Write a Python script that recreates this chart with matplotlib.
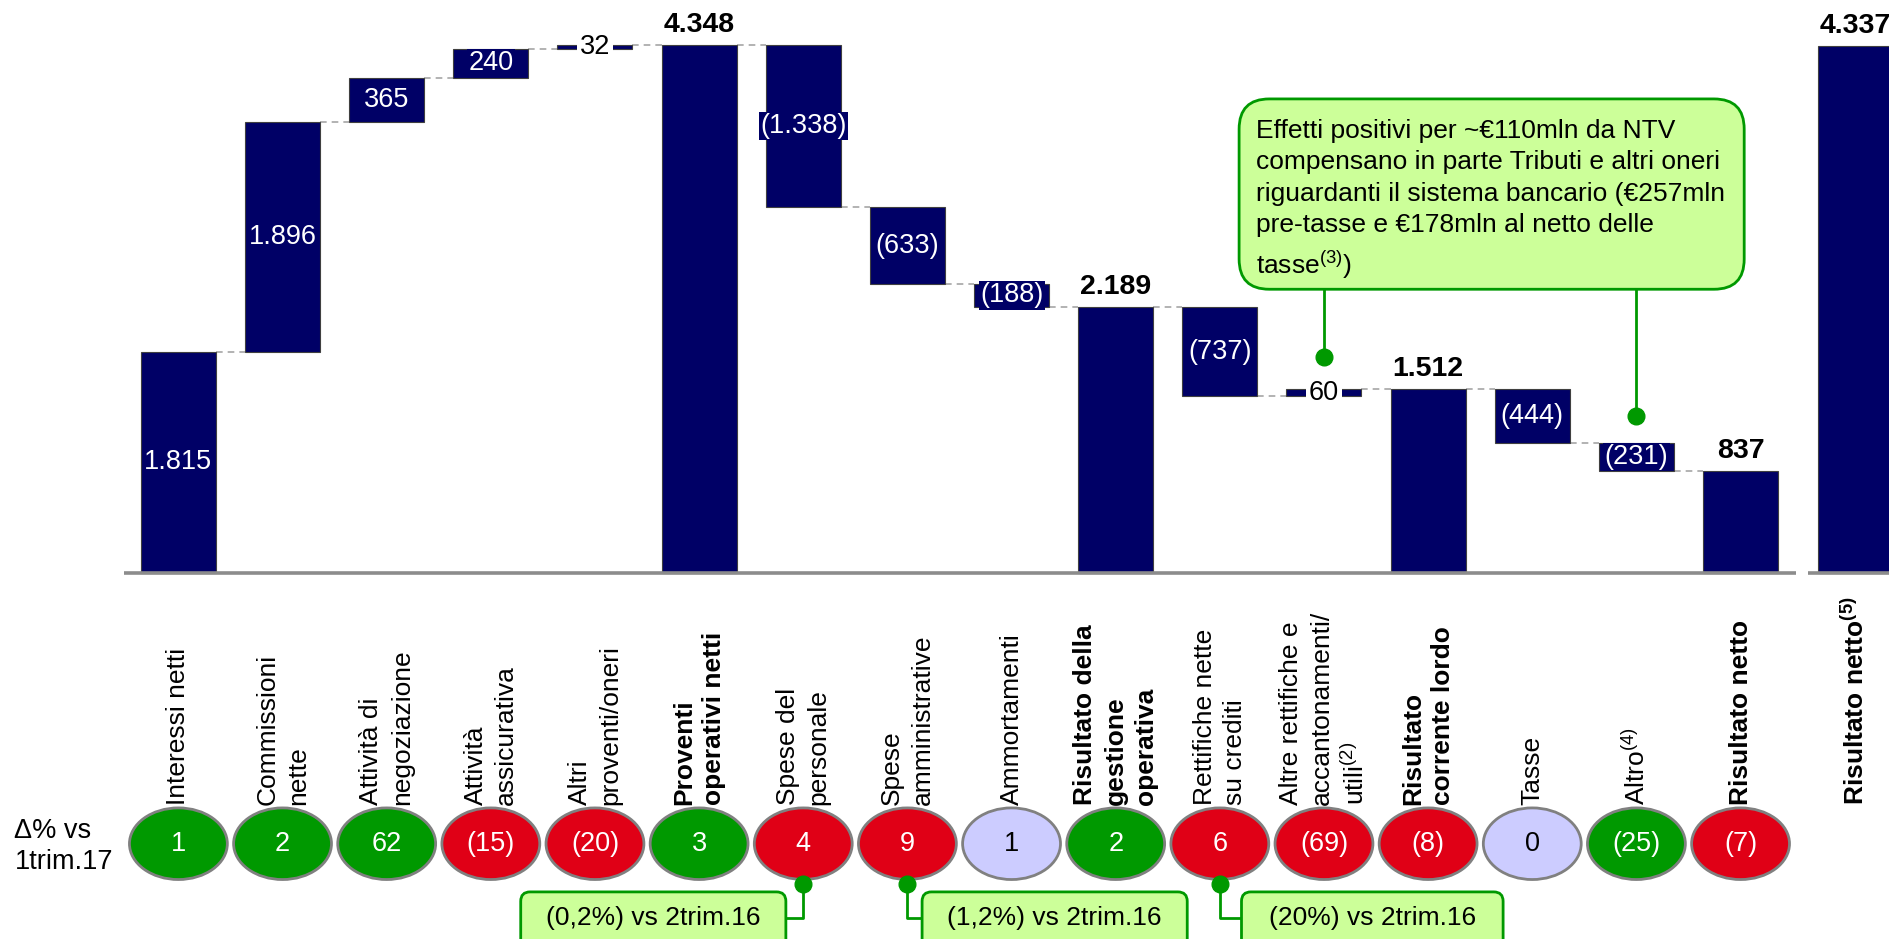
import matplotlib.pyplot as plt
from matplotlib.patches import Ellipse, FancyBboxPatch

plt.rcParams['font.family'] = ['Liberation Sans', 'DejaVu Sans']
plt.rcParams['mathtext.fontset'] = 'custom'
plt.rcParams['mathtext.rm'] = 'Liberation Sans'
plt.rcParams['mathtext.bf'] = 'Liberation Sans:bold'

categories = [
    "Interessi netti",
    "Commissioni\nnette",
    "Attività di\nnegoziazione",
    "Attività\nassicurativa",
    "Altri\nproventi/oneri",
    "Proventi\noperativi netti",
    "Spese del\npersonale",
    "Spese\namministrative",
    "Ammortamenti",
    "Risultato della\ngestione\noperativa",
    "Rettifiche nette\nsu crediti",
    "Altre rettifiche e\naccantonamenti/\nutili$^{(2)}$",
    "Risultato\ncorrente lordo",
    "Tasse",
    "Altro$^{(4)}$",
    "Risultato netto",
]
# None = subtotal bar
changes = [1815, 1896, 365, 240, 32, None, -1338, -633, -188, None,
           -737, 60, None, -444, -231, None]
delta_vs_q1 = [1, 2, 62, -15, -20, 3, 4, 9, 1, 2, 6, -69, -8, 0, -25, -7]
delta_kind = ['good', 'good', 'good', 'bad', 'bad', 'good', 'bad', 'bad',
              'flat', 'good', 'bad', 'bad', 'bad', 'flat', 'good', 'bad']

side_category = "Risultato netto$^{\\mathbf{(5)}}$"
side_value = 4337

callout_text = ("Effetti positivi per ~€110mln da NTV\n"
                "compensano in parte Tributi e altri oneri\n"
                "riguardanti il sistema bancario (€257mln\n"
                "pre-tasse e €178mln al netto delle\n"
                "tasse$^{(3)}$)")
callout_targets = [11, 14]

notes = ["(0,2%) vs 2trim.16", "(1,2%) vs 2trim.16", "(20%) vs 2trim.16"]
note_targets = [6, 7, 10]

NAVY = '#000066'
GREEN = '#009900'
LIGHT_GREEN = '#CCFF99'
oval_fill = {'good': '#009900', 'bad': '#E00016', 'flat': '#CCCCFF'}
oval_text = {'good': 'white', 'bad': 'white', 'flat': 'black'}
NARROW = ['Liberation Sans Narrow', 'Liberation Sans']
FS = 19
BAR_W = 0.72
ASPECT = 857.5  # y units per x unit for equal pixels


def fmt(v):
    s = f"{abs(v):,}".replace(",", ".")
    return f"({s})" if v < 0 else s


fig = plt.figure(figsize=(18.9, 9.39), dpi=100)
ax = fig.add_axes([0, 0, 1, 1])
ax.set_xlim(-1.713, 16.435)
ax.set_ylim(-3019, 4717)
ax.axis('off')

# waterfall geometry
x = list(range(len(categories)))
level = 0
bottoms, heights, levels = [], [], []
for v in changes:
    if v is None:
        bottoms.append(0)
        heights.append(level)
    else:
        start = level
        level += v
        bottoms.append(min(start, level))
        heights.append(abs(v))
    levels.append(level)

ax.bar(x, heights, bottom=bottoms, width=BAR_W, color=NAVY,
       edgecolor='#404040', linewidth=0.8, zorder=2)
ax.bar([16.1], [side_value], width=BAR_W, color=NAVY,
       edgecolor='#404040', linewidth=0.8, zorder=2)

# dashed connectors
for i in range(len(x) - 1):
    ax.plot([x[i] + BAR_W / 2, x[i + 1] - BAR_W / 2], [levels[i], levels[i]],
            color='#A6A6A6', lw=1.2, ls=(0, (4, 3)), zorder=1)

# value labels
for i, v in enumerate(changes):
    if v is None:
        ax.text(x[i], levels[i] + 60, fmt(levels[i]), ha='center', va='bottom',
                fontsize=20.5, fontweight='bold', zorder=4)
    elif 0 < v < 100:
        ax.text(x[i], bottoms[i] + heights[i] / 2, fmt(v), ha='center', va='center',
                fontsize=FS + 0.5, family=NARROW, color='black', zorder=4,
                bbox=dict(fc='white', ec='none', pad=2.0))
    else:
        ax.text(x[i], bottoms[i] + heights[i] / 2, fmt(v), ha='center', va='center',
                fontsize=FS + 0.5, family=NARROW, color='white', zorder=4,
                bbox=dict(fc=NAVY, ec='none', pad=1.0))
ax.text(16.1, side_value + 60, fmt(side_value), ha='center', va='bottom',
        fontsize=20.5, fontweight='bold', zorder=4)

# baseline
ax.plot([-0.52, 15.53], [0, 0], color='#8C8C8C', lw=2.6, solid_capstyle='butt', zorder=3)
ax.plot([15.65, 16.6], [0, 0], color='#8C8C8C', lw=2.6, solid_capstyle='butt', zorder=3)

# category labels
bold_idx = [i for i, v in enumerate(changes) if v is None]
for i, lab in enumerate(categories):
    ax.text(x[i], -1917, lab, rotation=90, ha='center', va='bottom',
            multialignment='left', fontsize=FS, linespacing=1.35,
            fontweight='bold' if i in bold_idx else 'normal')
ax.text(16.1, -1917, side_category, rotation=90, ha='center', va='bottom',
        fontsize=FS, fontweight='bold')

# delta % vs 1trim.17 ovals
ax.text(-1.574, -2254, "Δ% vs\n1trim.17", ha='left', va='center', fontsize=FS + 0.5,
        linespacing=1.25)
for i, (d, k) in enumerate(zip(delta_vs_q1, delta_kind)):
    ax.add_patch(Ellipse((x[i], -2234), 0.94, 590, fc=oval_fill[k],
                         ec='#808080', lw=2, zorder=3))
    ax.text(x[i], -2234, fmt(d), ha='center', va='center', fontsize=FS + 0.5,
            family=NARROW, color=oval_text[k], zorder=4)

# bottom notes
note_boxes = [(3.287, 5.833), (7.141, 9.687), (10.208, 12.72)]
for txt, t, (x0, x1) in zip(notes, note_targets, note_boxes):
    ax.add_patch(FancyBboxPatch((x0, -3150), x1 - x0, 3150 - 2631,
                                boxstyle="round,pad=0,rounding_size=0.09",
                                mutation_aspect=ASPECT, fc=LIGHT_GREEN,
                                ec=GREEN, lw=2, zorder=3))
    ax.text((x0 + x1) / 2, -2850, txt, ha='center', va='center', fontsize=FS,
            family=NARROW, zorder=4)
    edge = x1 if x1 < t else x0
    ax.plot([t, t, edge], [-2562, -2850, -2850], color=GREEN, lw=2, zorder=2)
    ax.plot([t], [-2562], 'o', color=GREEN, markersize=12, zorder=4)

# top callout
cx0, cx1, cy0, cy1 = 10.185, 15.035, 2334, 3902
ax.add_patch(FancyBboxPatch((cx0, cy0), cx1 - cx0, cy1 - cy0,
                            boxstyle="round,pad=0,rounding_size=0.29",
                            mutation_aspect=ASPECT, fc=LIGHT_GREEN,
                            ec=GREEN, lw=2, zorder=3))
ax.text(cx0 + 0.165, 3073, callout_text, ha='left', va='center', fontsize=FS,
        linespacing=1.4, zorder=4)
for t, ydot in zip(callout_targets, [1777, 1291]):
    ax.plot([t, t], [cy0, ydot], color=GREEN, lw=2, zorder=2)
    ax.plot([t], [ydot], 'o', color=GREEN, markersize=12, zorder=4)

fig.savefig("out.png", dpi=100)
